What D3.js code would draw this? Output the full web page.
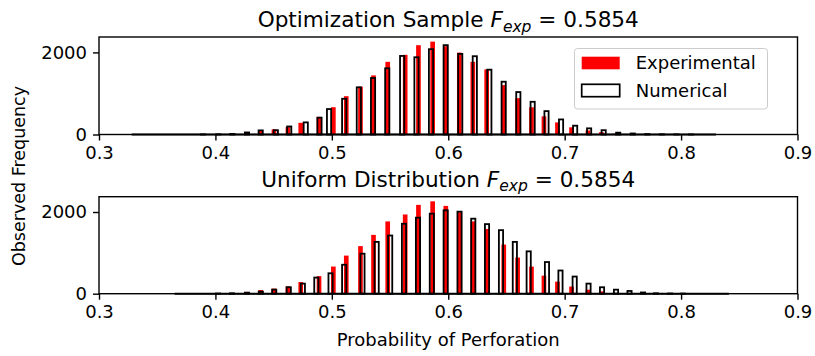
<!DOCTYPE html>
<html>
<head>
<meta charset="utf-8">
<script src="https://cdn.jsdelivr.net/npm/d3@7"></script>
<style>
  body { margin: 0; background: #fff; }
  svg { font-family: "DejaVu Sans", sans-serif; }
</style>
</head>
<body>
<svg id="chart" width="815" height="356"></svg>
<script>
// x ticks shared by both panels
var xTicks = [0.3, 0.4, 0.5, 0.6, 0.7, 0.8, 0.9];
var yTicks = [0, 2000];

// experimental histogram (same in both panels)
var expCenters = [0.4022, 0.4142, 0.4271, 0.4389, 0.4503, 0.4623, 0.4733, 0.4890, 0.5013, 0.5124,
                  0.5246, 0.5358, 0.5480, 0.5630, 0.5744, 0.5866, 0.5979, 0.6095, 0.6211, 0.6330,
                  0.6477, 0.6596, 0.6715, 0.6822, 0.6938, 0.7059, 0.7200, 0.7316, 0.7432, 0.7552];
var expCounts = [5, 15, 45, 90, 125, 180, 285, 430, 665, 933,
                 1165, 1440, 1770, 1940, 2175, 2262, 2150, 1995, 1770, 1585,
                 1203, 885, 663, 442, 295, 175, 98, 57, 20, 8];

// numerical, optimization sample (top)
var optRange = [0.328, 0.830];
var optCenters = [0.3893, 0.4025, 0.4145, 0.4271, 0.4389, 0.4519, 0.4634, 0.4776, 0.4894, 0.4976,
                  0.5106, 0.5232, 0.5354, 0.5476, 0.5604, 0.5727, 0.5852, 0.5978, 0.6103, 0.6228,
                  0.6353, 0.6476, 0.6602, 0.6725, 0.6844, 0.6969, 0.7090, 0.7210, 0.7335, 0.7460,
                  0.7585, 0.7710, 0.7835, 0.7960, 0.8085];
var optCounts = [2, 5, 15, 50, 100, 105, 195, 295, 410, 620,
                 870, 1149, 1376, 1613, 1914, 1882, 2078, 2176, 1963, 1907,
                 1579, 1286, 1034, 797, 570, 367, 215, 150, 105, 45,
                 25, 10, 5, 2, 1];

// numerical, uniform distribution (bottom)
var uniRange = [0.365, 0.841];
var uniCenters = [0.4022, 0.4142, 0.4271, 0.4390, 0.4505, 0.4630, 0.4751, 0.4867, 0.4989, 0.5106,
                  0.5263, 0.5385, 0.5501, 0.5620, 0.5740, 0.5859, 0.5978, 0.6097, 0.6215, 0.6333,
                  0.6453, 0.6572, 0.6691, 0.6848, 0.6964, 0.7086, 0.7205, 0.7321, 0.7441, 0.7557,
                  0.7673, 0.7784, 0.7905, 0.8016];
var uniCounts = [5, 10, 25, 50, 100, 158, 247, 395, 500, 709,
                 980, 1269, 1425, 1713, 1862, 1960, 2042, 2009, 1837, 1704,
                 1556, 1269, 1037, 775, 568, 420, 247, 158, 99, 67,
                 30, 10, 5, 3];

var panels = [
  { title: "Optimization Sample", centers: optCenters, counts: optCounts, range: optRange, top: 37, bottom: 134.5, legend: true },
  { title: "Uniform Distribution", centers: uniCenters, counts: uniCounts, range: uniRange, top: 196.7, bottom: 293.7, legend: false }
];

var svg = d3.select("#chart");
var left = 99, right = 797.5;
var numW = 0.0036, expW = 0.0040;
var fs = "18px";
var yMax = 1.05 * d3.max(expCounts.concat(optCounts, uniCounts));

var x = d3.scaleLinear().domain([0.3, 0.9]).range([left, right]);

panels.forEach(function (p) {
  var y = d3.scaleLinear().domain([0, yMax]).range([p.bottom, p.top]);
  var g = svg.append("g");

  // experimental bars
  g.selectAll(".exp")
    .data(expCenters)
    .enter().append("rect")
    .attr("x", function (d) { return x(d - expW / 2); })
    .attr("width", x(expW) - x(0))
    .attr("y", function (d, i) { return y(expCounts[i]); })
    .attr("height", function (d, i) { return y(0) - y(expCounts[i]); })
    .attr("fill", "red");

  // empty numerical bins along the baseline
  g.append("line")
    .attr("x1", x(p.range[0])).attr("x2", x(p.range[1]))
    .attr("y1", y(0)).attr("y2", y(0))
    .attr("stroke", "#000").attr("stroke-width", 2);

  // numerical bars (outline only)
  g.selectAll(".num")
    .data(p.centers)
    .enter().append("rect")
    .attr("x", function (d) { return x(d - numW / 2); })
    .attr("width", x(numW) - x(0))
    .attr("y", function (d, i) { return y(p.counts[i]); })
    .attr("height", function (d, i) { return y(0) - y(p.counts[i]); })
    .attr("fill", "none")
    .attr("stroke", "black")
    .attr("stroke-width", 1.8);

  // axes
  g.append("g")
    .attr("transform", "translate(0," + p.bottom + ")")
    .call(d3.axisBottom(x).tickValues(xTicks).tickFormat(d3.format(".1f")).tickSize(6).tickPadding(6))
    .call(function (a) { a.select(".domain").remove(); });
  g.append("g")
    .attr("transform", "translate(" + left + ",0)")
    .call(d3.axisLeft(y).tickValues(yTicks).tickFormat(d3.format("d")).tickSize(6).tickPadding(6))
    .call(function (a) { a.select(".domain").remove(); });
  g.selectAll(".tick text").style("font-size", fs).attr("fill", "#000")
    .style("font-family", "DejaVu Sans");
  g.selectAll(".tick line").attr("stroke", "#000").attr("stroke-width", 1.4);

  g.append("rect")
    .attr("x", left).attr("y", p.top)
    .attr("width", right - left).attr("height", p.bottom - p.top)
    .attr("fill", "none").attr("stroke", "#000").attr("stroke-width", 1.4);

  // title
  var t = g.append("text")
    .attr("x", (left + right) / 2)
    .attr("y", p.top - 10)
    .attr("text-anchor", "middle")
    .style("font-size", "21.6px");
  t.append("tspan").text(p.title + " ");
  t.append("tspan").style("font-style", "italic").text("F");
  t.append("tspan").style("font-style", "italic").style("font-size", "15.5px").attr("dy", 4.5).text("exp");
  t.append("tspan").attr("dy", -4.5).text(" = 0.5854");

  if (p.legend) {
    var lg = g.append("g").attr("transform", "translate(574.5,48.5)");
    lg.append("rect").attr("width", 193).attr("height", 60.5).attr("rx", 3)
      .attr("fill", "#fff").attr("fill-opacity", 0.8).attr("stroke", "#ccc");
    lg.append("rect").attr("x", 7.2).attr("y", 8.2).attr("width", 38).attr("height", 12.6).attr("fill", "red");
    lg.append("rect").attr("x", 7.2).attr("y", 35.8).attr("width", 38).attr("height", 12.4)
      .attr("fill", "#fff").attr("stroke", "#000").attr("stroke-width", 1.7);
    lg.append("text").attr("x", 61.2).attr("y", 20.8).style("font-size", fs).text("Experimental");
    lg.append("text").attr("x", 61.2).attr("y", 48.2).style("font-size", fs).text("Numerical");
  }
});

svg.append("text")
  .attr("x", (left + right) / 2).attr("y", 346)
  .attr("text-anchor", "middle").style("font-size", fs)
  .text("Probability of Perforation");

svg.append("text")
  .attr("transform", "translate(24.5,176) rotate(-90)")
  .attr("text-anchor", "middle").style("font-size", "17.5px")
  .text("Observed Frequency");
</script>
</body>
</html>
